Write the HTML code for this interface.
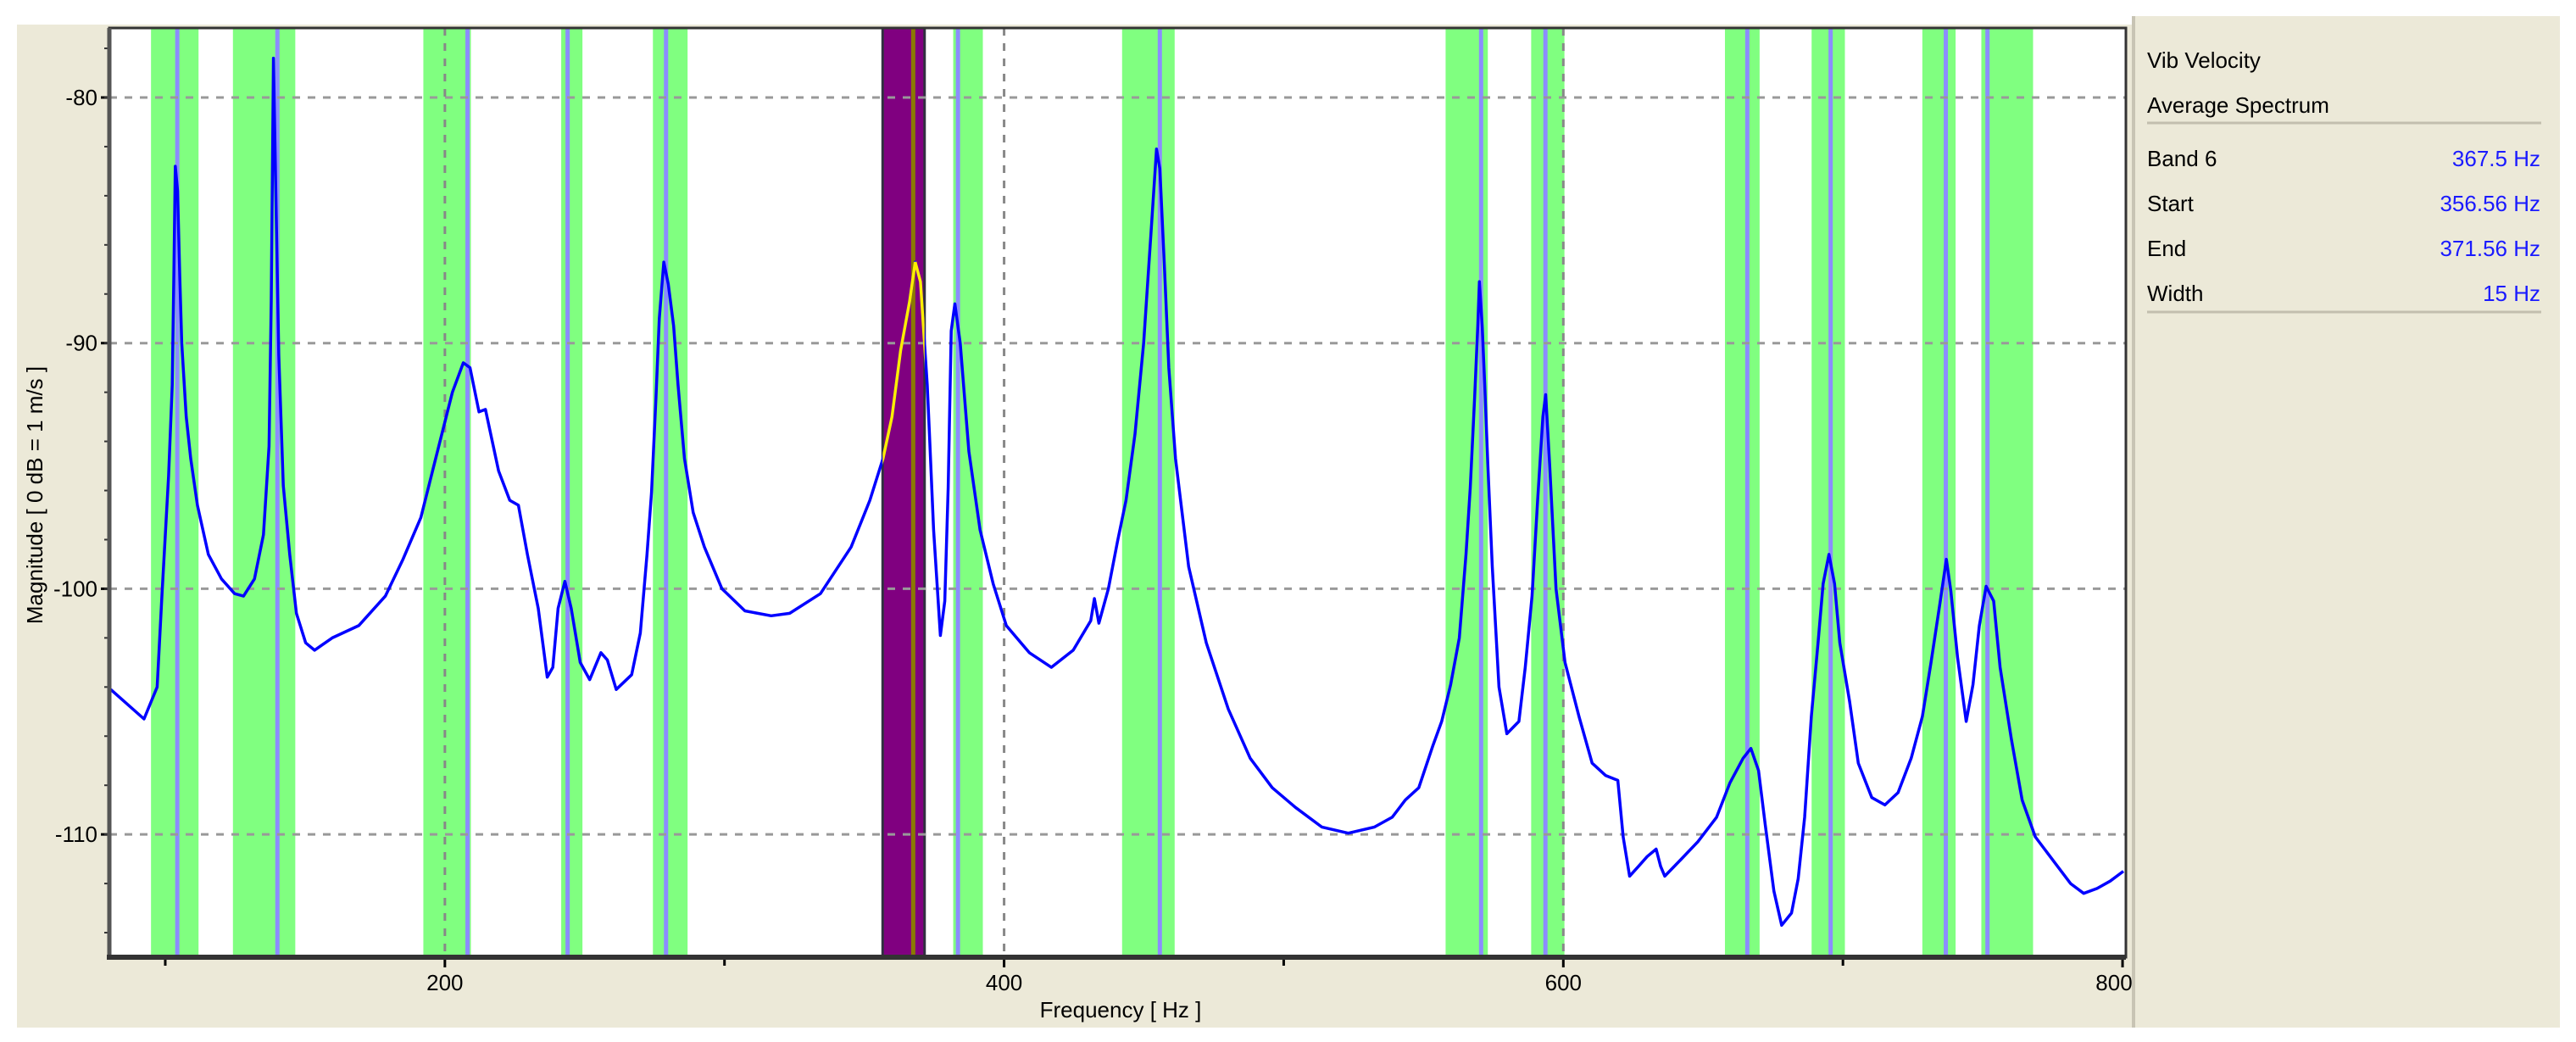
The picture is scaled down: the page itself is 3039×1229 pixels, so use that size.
<!DOCTYPE html>
<html><head><meta charset="utf-8">
<style>
html,body{margin:0;padding:0;background:#fff;}
svg{display:block;font-family:"Liberation Sans",Arial,sans-serif;}
</style></head>
<body>
<svg id="chart" width="3039" height="1229" viewBox="0 0 3039 1229" xmlns="http://www.w3.org/2000/svg">
<rect x="20" y="29" width="2495" height="1183" fill="#ece9d8"/>
<rect x="2519" y="19" width="501" height="1193" fill="#ece9d8"/>
<line x1="2517" y1="19" x2="2517" y2="1212" stroke="#c8c4b4" stroke-width="4"/>
<rect x="129" y="33" width="2379" height="1096" fill="#ffffff"/>
<g id="bands"></g>
<g id="grid"></g>
<g id="series"></g>
<g id="axes"></g>
<text x="1322" y="1200" font-size="26" text-anchor="middle" fill="#000">Frequency [ Hz ]</text>
<text transform="translate(50,584) rotate(-90)" font-size="26" text-anchor="middle" fill="#000">Magnitude [ 0 dB = 1 m/s ]</text>
<g font-size="26">
<text x="2533" y="80" fill="#000">Vib Velocity</text>
<text x="2533" y="133" fill="#000">Average Spectrum</text>
<line x1="2533" y1="145" x2="2998" y2="145" stroke="#c2beae" stroke-width="3"/>
<text x="2533" y="196" fill="#000">Band 6</text>
<text x="2997" y="196" fill="#1a1aff" text-anchor="end">367.5 Hz</text>
<text x="2533" y="249" fill="#000">Start</text>
<text x="2997" y="249" fill="#1a1aff" text-anchor="end">356.56 Hz</text>
<text x="2533" y="302" fill="#000">End</text>
<text x="2997" y="302" fill="#1a1aff" text-anchor="end">371.56 Hz</text>
<text x="2533" y="355" fill="#000">Width</text>
<text x="2997" y="355" fill="#1a1aff" text-anchor="end">15 Hz</text>
<line x1="2533" y1="368" x2="2998" y2="368" stroke="#c2beae" stroke-width="3"/>
</g>
</svg>
<script>
const bandStarts=[94.9,124.2,192.3,241.6,274.4,381.8,442.2,557.9,588.5,657.8,688.8,728.4,749.5];
const bandEnds=[111.9,146.5,209.3,249.2,286.8,392.4,461.0,573.0,600.4,670.2,700.7,740.3,768.0];
const bandCenters=[104.3,140.1,208.1,243.9,279.1,383.5,455.7,570.6,593.6,665.8,695.6,736.8,751.7];
const selStart=356.56, selEnd=371.56, selCenter=367.5;
const yTicks=[-80,-90,-100,-110];
const xTicks=[200,400,600,800];
const freqs=[80.5,92.4,97.1,98.8,101.2,102.5,103.1,103.6,104.4,105.2,105.9,107.5,109.1,111.5,115.4,120.1,124.8,128,131.9,135.1,137.1,137.9,138.7,139.5,140.6,142.2,144.5,146.9,150.2,153.4,159.7,169.2,178.7,185,191.4,197.8,
202.7,206.6,209,212.2,214.5,219.2,223.2,226.3,229.5,233.4,236.6,238.6,240.5,242.9,245.2,248.4,
251.8,255.8,258.1,261.3,266.8,269.9,272.3,273.9,275.5,276.7,278.3,279.9,281.8,283.4,285.7,288.8,292.8,299.1,
307.3,316.7,323.3,334.3,345.3,
352,356.7,359.9,363,366.2,368.2,370.1,372.5,373.3,374.8,377.2,378.8,380,381.1,382.4,384.3,387.4,391.4,396.1,400.8,
409,416.9,424.7,431,432.3,433.9,437.3,440.5,443.6,446.8,449.9,
452.6,454.5,455.7,457.3,458.9,461.3,466,472.3,480.2,488,495.9,
504.2,513.6,523.1,532.5,538.8,543.5,548.3,
553.3,556.5,559.7,562.8,565.2,566.7,568.3,569.4,570,571,571.9,573,574.6,577,579.8,584.1,586.4,588.8,590.8,592.7,593.7,595.1,597.4,600.6,
605.6,610.3,615.1,619.5,621.4,623.7,626.9,630,633.2,634.8,636.3,641.8,648.1,
654.8,659.6,664.3,667.1,669.8,672.2,675.3,678.1,681.6,684,686.3,688.7,691.1,692.9,695,697,698.9,
702.4,705.5,710.3,715,719.7,724.4,728.4,731.5,734.7,737,738.6,741,744.1,746.5,748.8,751.2,
753.9,756.2,760.2,764.1,768.8,775.1,781.4,786.1,790.9,795.6,800.3];
const mags=[-104.1,-105.3,-104,-100.3,-95.4,-91.7,-87,-82.8,-83.8,-87.3,-90,-93,-94.7,-96.6,-98.6,-99.6,-100.2,-100.3,-99.6,-97.8,-94.2,-88.3,-78.4,-83.7,-90.5,-95.8,-98.6,-101,-102.2,-102.5,-102,-101.5,-100.3,-98.8,-97.1,-94.2,-92,-90.8,-91,-92.8,-92.7,-95.2,-96.4,-96.6,-98.6,-100.8,-103.6,-103.2,-100.8,-99.7,-100.8,-103,-103.7,-102.6,-102.9,-104.1,-103.5,-101.8,-98.6,-96.1,-92.2,-89,-86.7,-87.6,-89.3,-91.7,-94.7,-96.9,-98.3,-100,-100.9,-101.1,-101,-100.2,-98.3,-96.4,-94.7,-93,-90.3,-88.3,-86.7,-87.5,-91.7,-93.7,-97.6,-101.9,-100.5,-95.9,-89.5,-88.4,-90,-94.4,-97.6,-99.8,-101.5,-102.6,-103.2,-102.5,-101.3,-100.4,-101.4,-100,-98.1,-96.4,-93.7,-90,-85.4,-82.1,-82.9,-86.8,-91,-94.7,-99.1,-102.2,-104.9,-106.9,-108.1,-108.9,-109.7,-109.95,-109.7,-109.3,-108.6,-108.1,-106.4,-105.4,-103.9,-102,-98.6,-95.9,-92.2,-89.3,-87.5,-89.3,-91.7,-94.9,-99.1,-104,-105.9,-105.4,-103.2,-100.3,-96.4,-93,-92.1,-94.9,-100,-103,-105.2,-107.1,-107.6,-107.8,-110.1,-111.7,-111.3,-110.9,-110.6,-111.3,-111.7,-111.05,-110.3,-109.3,-107.9,-106.9,-106.5,-107.4,-109.6,-112.3,-113.7,-113.2,-111.8,-109.3,-105.2,-102.2,-99.8,-98.6,-99.8,-102.2,-104.6,-107.1,-108.5,-108.8,-108.3,-106.9,-105.2,-103,-100.6,-98.8,-100.1,-102.8,-105.4,-103.9,-101.5,-99.9,-100.5,-103.2,-106.1,-108.6,-110.1,-111.05,-112,-112.4,-112.2,-111.9,-111.5];

const NS='http://www.w3.org/2000/svg';
const L=129,R=2508,T=33,B=1129;
const XMIN=80,XMAX=801.2,YMIN=-115,YMAX=-77.17;
function xs(v){return L+(v-XMIN)/(XMAX-XMIN)*(R-L);}
function ys(v){return B-(v-YMIN)/(YMAX-YMIN)*(B-T);}
function mk(tag,attrs,parent){const e=document.createElementNS(NS,tag);for(const k in attrs)e.setAttribute(k,attrs[k]);parent.appendChild(e);return e;}
const gB=document.getElementById('bands'),gG=document.getElementById('grid'),gS=document.getElementById('series'),gA=document.getElementById('axes');

for(let i=0;i<bandStarts.length;i++){
  const r=mk('rect',{x:xs(bandStarts[i]),y:T,width:xs(bandEnds[i])-xs(bandStarts[i]),height:B-T,fill:'#80ff80'},gB);
  
  
  const c=mk('line',{x1:xs(bandCenters[i]),x2:xs(bandCenters[i]),y1:T,y2:B,stroke:'#8c8cff','stroke-width':5},gB);
  
  
}
const sel=mk('rect',{x:xs(selStart),y:T,width:xs(selEnd)-xs(selStart),height:B-T,fill:'#800080',stroke:'#303040','stroke-width':3},gB);


const sc=mk('line',{x1:xs(selCenter),x2:xs(selCenter),y1:T,y2:B,stroke:'#8a7a00','stroke-width':5},gB);



yTicks.forEach(v=>{
  const g=mk('line',{x1:L,x2:R,y1:ys(v),y2:ys(v),stroke:'#999','stroke-width':3,'stroke-dasharray':'9 9'},gG);
  
  
  const t=mk('text',{x:L-14,y:ys(v)+9,'font-size':26,'text-anchor':'end',fill:'#000'},gA);
  t.textContent=v;
  
  
  mk('line',{x1:L-10,x2:L,y1:ys(v),y2:ys(v),stroke:'#000','stroke-width':3},gA);
});
for(let v=-114;v<=-78;v+=2){mk('line',{x1:L-6,x2:L,y1:ys(v),y2:ys(v),stroke:'#333','stroke-width':2},gA);}
xTicks.forEach(v=>{
  if(v<780){
    const g=mk('line',{x1:xs(v),x2:xs(v),y1:T,y2:B,stroke:'#888','stroke-width':3,'stroke-dasharray':'9 9'},gG);
    
    
  }
  const t=mk('text',{x:Math.min(xs(v),2494),y:1168,'font-size':26,'text-anchor':'middle',fill:'#000'},gA);
  t.textContent=v;
  
  
  mk('line',{x1:xs(v),x2:xs(v),y1:B,y2:B+12,stroke:'#000','stroke-width':3},gA);
});
for(let v=100;v<=700;v+=200){mk('line',{x1:xs(v),x2:xs(v),y1:B,y2:B+10,stroke:'#000','stroke-width':3},gA);}

let d='';
for(let i=0;i<freqs.length;i++){d+=(i?'L':'M')+xs(freqs[i]).toFixed(1)+' '+ys(mags[i]).toFixed(1);}
const cpp=mk('clipPath',{id:'plotclip'},gS);
mk('rect',{x:L,y:T,width:R-L,height:B-T},cpp);
const line=mk('path',{d:d,fill:'none',stroke:'#0000ff','stroke-width':3.5,'stroke-linejoin':'round','clip-path':'url(#plotclip)'},gS);


const cp=mk('clipPath',{id:'selclip'},gS);
mk('rect',{x:xs(selStart),y:T,width:xs(selEnd)-xs(selStart),height:B-T},cp);
const yl=mk('path',{d:d,fill:'none',stroke:'#ffee00','stroke-width':3.5,'clip-path':'url(#selclip)'},gS);



const ax=mk('path',{d:`M${L} ${T}H${R}V${B}H${L}Z`,fill:'none',stroke:'#333','stroke-width':3},gA);


const la=mk('line',{x1:L,x2:L,y1:T,y2:B+3,stroke:'#555','stroke-width':5},gA);


const ba=mk('line',{x1:L-3,x2:R,y1:B,y2:B,stroke:'#333','stroke-width':6},gA);


</script>
</body></html>
